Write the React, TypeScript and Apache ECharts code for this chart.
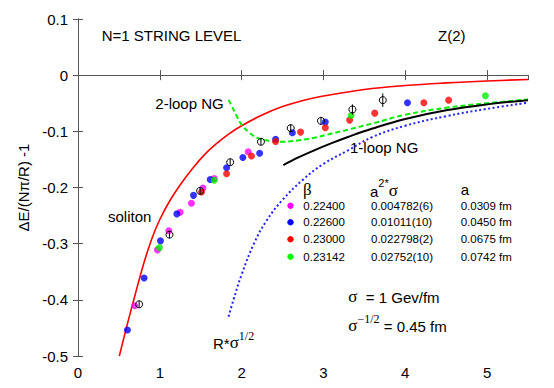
import React, { useEffect, useRef } from "react";
import * as echarts from "echarts";

// ---- data ----
const beta22400 = [[0.694, -0.4105], [0.971, -0.311], [1.11, -0.277], [1.248, -0.244], [1.387, -0.228], [1.526, -0.201], [1.665, -0.184], [2.08, -0.1365]];
const beta22600 = [[0.604, -0.4537], [0.808, -0.361], [1.008, -0.295], [1.208, -0.247], [1.412, -0.214], [1.616, -0.1856], [1.816, -0.165], [2.015, -0.1465], [2.22, -0.139], [2.415, -0.114], [2.62, -0.1026], [3.023, -0.0836], [4.027, -0.0492]];
const beta23000 = [[1.51, -0.208], [1.816, -0.1756], [2.12, -0.144], [2.415, -0.118], [2.72, -0.1014], [3.023, -0.0937], [3.32, -0.08], [3.627, -0.0676], [4.227, -0.0492], [4.53, -0.0445]];
const beta23142 = [[0.995, -0.307], [1.665, -0.187], [3.338, -0.0718], [4.98, -0.0368]];
// x, y, error
const openPoints = [[0.747, -0.408, 0.006], [1.118, -0.284, 0.006], [1.493, -0.206, 0.006], [1.86, -0.155, 0.006], [2.236, -0.1186, 0.006], [2.6, -0.0943, 0.007], [2.97, -0.0813, 0.007], [3.354, -0.061, 0.009], [3.725, -0.0445, 0.012]];

const solitonCurve = [[0.505, -0.5], [0.6, -0.445], [0.7, -0.39], [0.8, -0.337], [0.9, -0.292], [1.0, -0.257], [1.12, -0.224], [1.25, -0.195], [1.4, -0.166], [1.55, -0.141], [1.7, -0.121], [1.85, -0.104], [2.0, -0.09], [2.25, -0.071], [2.5, -0.056], [2.75, -0.045], [3.0, -0.037], [3.5, -0.0255], [4.0, -0.0185], [4.5, -0.0138], [5.0, -0.0103], [5.5, -0.0077]];
const twoLoopNG = [[1.84, -0.044], [1.88, -0.055], [1.93, -0.07], [2.0, -0.088], [2.1, -0.103], [2.2, -0.112], [2.35, -0.117], [2.5, -0.1185], [2.7, -0.116], [2.9, -0.111], [3.1, -0.104], [3.3, -0.097], [3.6, -0.086], [4.0, -0.0705], [4.5, -0.058], [5.0, -0.05], [5.5, -0.0433]];
const oneLoopNG = [[2.51, -0.16], [2.7, -0.146], [2.9, -0.133], [3.1, -0.121], [3.3, -0.11], [3.6, -0.095], [4.0, -0.078], [4.5, -0.0625], [5.0, -0.052], [5.5, -0.0445]];
const dottedCurve = [[1.84, -0.43], [1.9, -0.4], [2.0, -0.355], [2.15, -0.3], [2.3, -0.26], [2.5, -0.222], [2.75, -0.186], [3.0, -0.158], [3.3, -0.134], [3.6, -0.11], [4.0, -0.09], [4.5, -0.073], [5.0, -0.06], [5.5, -0.049]];

const tableBeta = ["0.22400", "0.22600", "0.23000", "0.23142"];
const tableA2Sigma = ["0.004782(6)", "0.01011(10)", "0.022798(2)", "0.02752(10)"];
const tableA = ["0.0309 fm", "0.0450 fm", "0.0675 fm", "0.0742 fm"];
const tableColors = ["#ff00ff", "#0000ff", "#ff0000", "#00ff00"];

const SANS = '"Liberation Sans", Arial, Helvetica, sans-serif';
const SERIF = '"Liberation Serif", "DejaVu Serif", serif';

function txt(x: number, y: number, text: string, size: number, family = SANS) {
  return {
    type: "text",
    x,
    y,
    silent: true,
    style: {
      text,
      fontSize: size,
      fontFamily: family,
      fill: "#000",
      textAlign: "left",
      textVerticalAlign: "middle",
    },
  };
}

const richStyles = {
  n: { fontSize: 15, fontFamily: SANS, lineHeight: 21, verticalAlign: "bottom", fill: "#000" },
  g: { fontSize: 17, fontFamily: SERIF, lineHeight: 21, verticalAlign: "bottom", fill: "#000" },
  sup: { fontSize: 12, fontFamily: SERIF, lineHeight: 14, verticalAlign: "top", fill: "#000" },
  supS: { fontSize: 11, fontFamily: SANS, lineHeight: 14, verticalAlign: "top", fill: "#000" },
};

function rich(x: number, y: number, text: string) {
  return {
    type: "text",
    x,
    y,
    silent: true,
    style: {
      text,
      rich: richStyles,
      textAlign: "left",
      textVerticalAlign: "middle",
    },
  };
}

export default function App() {
  const ref = useRef<HTMLDivElement>(null);
  useEffect(() => {
    if (!ref.current) return;
    const chart = echarts.init(ref.current, undefined, { renderer: "svg" });
    const axisColor = "#555";
    const rowY = [205.7, 222.3, 239.3, 256.7];
    const graphic: any[] = [
      txt(101.7, 35, "N=1 STRING LEVEL", 15),
      txt(438, 35, "Z(2)", 15),
      txt(155.3, 103.3, "2-loop NG", 15),
      txt(350, 147.3, "1-loop NG", 15),
      txt(108, 216.7, "soliton", 15),
      txt(303, 189, "β", 17, SERIF),
      rich(370, 188, "{n|a}{supS|2*}{g|σ}"),
      txt(460.7, 189, "a", 15),
      rich(348.3, 294, "{g|σ}{n|  = 1 Gev/fm}"),
      rich(348.3, 323, "{g|σ}{sup|−1/2}{n| = 0.45 fm}"),
      rich(213, 340, "{n|R*}{g|σ}{sup|1/2}"),
    ];
    tableBeta.forEach((b, i) => {
      graphic.push({ type: "circle", silent: true, shape: { cx: 290.5, cy: rowY[i], r: 3.2 }, style: { fill: tableColors[i] } });
      graphic.push(txt(303.3, rowY[i], b, 11.5));
      graphic.push(txt(371, rowY[i], tableA2Sigma[i], 11.5));
      graphic.push(txt(460.7, rowY[i], tableA[i], 11.5));
    });

    const lineSeries = (data: number[][], color: string, type: any, width: number) => ({
      type: "line",
      data,
      showSymbol: false,
      smooth: 0.4,
      silent: true,
      lineStyle: { color, width, type },
      z: 2,
    });
    const dotSeries = (data: number[][], color: string) => ({
      type: "scatter",
      data,
      symbolSize: 7,
      silent: true,
      itemStyle: { color },
      z: 4,
    });

    chart.setOption({
      animation: false,
      backgroundColor: "#fff",
      grid: { left: 78, right: 26, top: 19, bottom: 32 },
      xAxis: [
        {
          type: "value", min: 0, max: 5.5, interval: 1, position: "bottom",
          axisLine: { show: true, lineStyle: { color: axisColor, width: 1 } },
          axisTick: { show: true, inside: true, length: 5, lineStyle: { color: axisColor } },
          axisLabel: { color: "#000", fontSize: 15, fontFamily: SANS, margin: 9, showMaxLabel: false },
          splitLine: { show: false },
        },
        {
          type: "value", min: 0, max: 5.5, interval: 1, position: "top",
          axisLine: { show: true, lineStyle: { color: axisColor, width: 1 } },
          axisTick: { show: true, inside: true, length: 5, lineStyle: { color: axisColor } },
          axisLabel: { show: false },
          splitLine: { show: false },
        },
      ],
      yAxis: [
        {
          type: "value", min: -0.5, max: 0.1, interval: 0.1, position: "left",
          name: "ΔE/(Nπ/R) -1", nameLocation: "middle", nameGap: 45, nameRotate: 90,
          nameTextStyle: { color: "#000", fontSize: 15, fontFamily: SANS },
          axisLine: { show: true, lineStyle: { color: axisColor, width: 1 } },
          axisTick: { show: true, inside: true, length: 5, lineStyle: { color: axisColor } },
          axisLabel: {
            color: "#000", fontSize: 15, fontFamily: SANS, margin: 10,
            formatter: (v: number) => { const r = Math.round(v * 10) / 10; return r === 0 ? "0" : r.toFixed(1); },
          },
          splitLine: { show: false },
        },
        {
          type: "value", min: -0.5, max: 0.1, interval: 0.1, position: "right",
          axisLine: { show: true, lineStyle: { color: axisColor, width: 1 } },
          axisTick: { show: true, inside: true, length: 5, lineStyle: { color: axisColor } },
          axisLabel: { show: false },
          splitLine: { show: false },
        },
      ],
      graphic,
      series: [
        {
          ...lineSeries(solitonCurve, "#ff0000", "solid", 1.6),
          markLine: {
            silent: true, symbol: "none", label: { show: false },
            lineStyle: { color: axisColor, width: 1, type: "solid" },
            data: [{ yAxis: 0 }],
          },
        },
        lineSeries(twoLoopNG, "#00ee00", [5, 3], 2),
        lineSeries(oneLoopNG, "#000000", "solid", 2),
        lineSeries(dottedCurve, "#2222ff", [2, 2.5], 2),
        dotSeries(beta22400, "#ff00ff"),
        dotSeries(beta22600, "#0000ff"),
        dotSeries(beta23000, "#ff0000"),
        dotSeries(beta23142, "#00ee00"),
        {
          type: "custom",
          data: openPoints,
          silent: true,
          z: 5,
          renderItem: (params: any, api: any) => {
            const x = api.value(0), y = api.value(1), e = api.value(2);
            const p = api.coord([x, y]);
            const t = api.coord([x, y + e]);
            const b = api.coord([x, y - e]);
            return {
              type: "group",
              children: [
                { type: "line", shape: { x1: p[0], y1: t[1], x2: p[0], y2: b[1] }, style: { stroke: "#000", lineWidth: 1 } },
                { type: "circle", shape: { cx: p[0], cy: p[1], r: 3.5 }, style: { fill: "none", stroke: "#000", lineWidth: 1 } },
              ],
            };
          },
        },
      ],
    });
    return () => chart.dispose();
  }, []);
  return <div ref={ref} style={{ width: 554, height: 388, position: "absolute", left: 0, top: 0 }} />;
}
